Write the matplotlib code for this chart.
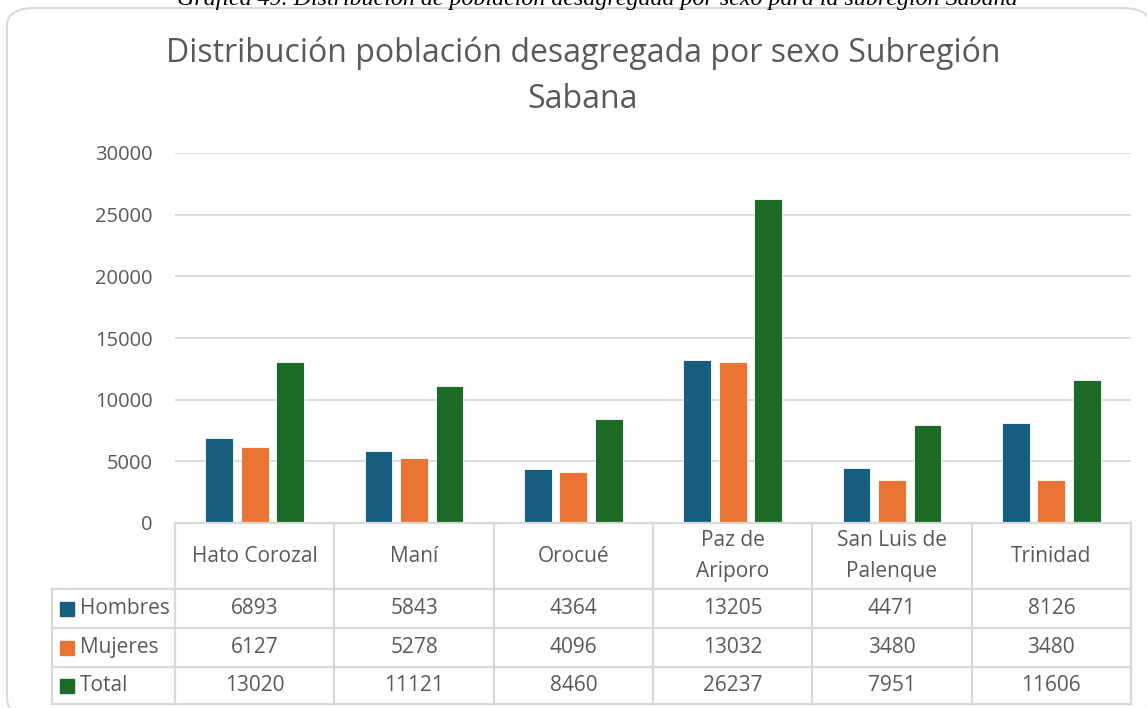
import numpy as np
import matplotlib.pyplot as plt
from matplotlib.patches import FancyBboxPatch, Rectangle

# Datos por municipio
municipios = ["Hato Corozal", "Maní", "Orocué", "Paz de\nAriporo", "San Luis de\nPalenque", "Trinidad"]
hombres = [6893, 5843, 4364, 13205, 4471, 8126]
mujeres = [6127, 5278, 4096, 13032, 3480, 3480]
total = [13020, 11121, 8460, 26237, 7951, 11606]
series_nombres = ["Hombres", "Mujeres", "Total"]
colores = ["#165E80", "#EA7433", "#1B6A25"]

W, H = 1147, 708
plt.rcParams['font.family'] = ['Open Sans', 'DejaVu Sans']
fig = plt.figure(figsize=(W / 100, H / 100), dpi=100)

def fx(px):
    return px / W

def fy(py):
    return 1 - py / H

# marco redondeado del gráfico
marco = FancyBboxPatch((fx(7), fy(716)), fx(1150) - fx(7), fy(8) - fy(716),
                       boxstyle="round,pad=0,rounding_size=0.025",
                       transform=fig.transFigure, facecolor="white",
                       edgecolor="#D9D9D9", linewidth=1.5, clip_on=False, zorder=-5)
fig.patches.append(marco)

# leyenda de la figura (cortada arriba)
fig.text(fx(597), fy(5), "Gráfica 49. Distribución de población desagregada por sexo para la subregión Sabana",
         ha="center", va="baseline", fontsize=17.3, style="italic",
         family=["Liberation Serif"], color="#000000")

fig.text(fx(583), fy(53), "Distribución población desagregada por sexo Subregión",
         ha="center", va="center", fontsize=23, color="#595959")
fig.text(fx(583), fy(100), "Sabana", ha="center", va="center", fontsize=23, color="#595959")

# área de barras
x0, x1 = 175, 1131
y_top, y_bot = 153, 523
ax = fig.add_axes([fx(x0), fy(y_bot), fx(x1) - fx(x0), fy(y_top) - fy(y_bot)])
ax.set_xlim(-0.5, len(municipios) - 0.5)
ax.set_ylim(0, 30000)
ax.set_yticks(np.arange(0, 30001, 5000))
ax.yaxis.grid(True, color="#D9D9D9", linewidth=1.3)
ax.set_axisbelow(True)
ax.patch.set_alpha(0)
ax.tick_params(axis="y", length=0, labelsize=14.5, labelcolor="#595959", pad=16)
ax.set_xticks([])
for s in ax.spines.values():
    s.set_visible(False)

x = np.arange(len(municipios))
ancho = 0.174
sep = 0.222
for i, (vals, col) in enumerate(zip([hombres, mujeres, total], colores)):
    ax.bar(x + (i - 1) * sep, vals, width=ancho, color=col, edgecolor="white", linewidth=0.6)

# tabla de datos debajo del eje
leg_left = 52
filas = [523, 589, 628, 667, 704]
col_w = (x1 - x0) / len(municipios)
tax = fig.add_axes([0, 0, 1, 1])
tax.set_xlim(0, W)
tax.set_ylim(H, 0)
tax.axis("off")
lc = "#D9D9D9"
lw = 1.6
# líneas horizontales
tax.plot([x0, x1], [filas[0], filas[0]], color=lc, lw=lw)
for yy in filas[1:]:
    tax.plot([leg_left, x1], [yy, yy], color=lc, lw=lw)
# líneas verticales
tax.plot([leg_left, leg_left], [filas[1], filas[-1]], color=lc, lw=lw)
for j in range(len(municipios) + 1):
    xx = x0 + j * col_w
    tax.plot([xx, xx], [filas[0], filas[-1]], color=lc, lw=lw)

txt_kw = dict(ha="center", va="center", fontsize=15, color="#595959")
for j, nombre in enumerate(municipios):
    cx = x0 + (j + 0.5) * col_w
    tax.text(cx, (filas[0] + filas[1]) / 2, nombre, linespacing=1.65, **txt_kw)
    for r, vals in enumerate([hombres, mujeres, total]):
        tax.text(cx, (filas[r + 1] + filas[r + 2]) / 2, str(vals[j]), **txt_kw)

for r, (nombre, col) in enumerate(zip(series_nombres, colores)):
    cy = (filas[r + 1] + filas[r + 2]) / 2
    tax.add_patch(Rectangle((leg_left + 8, cy - 7), 14, 14, color=col))
    tax.text(leg_left + 28, cy, nombre, ha="left", va="center", fontsize=15, color="#595959")

fig.savefig("out.png", dpi=100)
